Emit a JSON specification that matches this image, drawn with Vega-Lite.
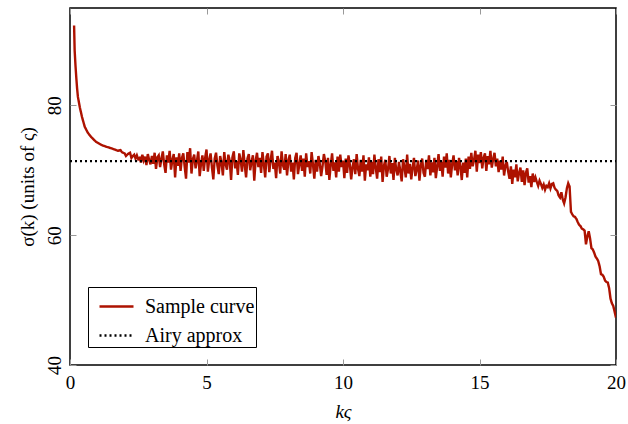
{
  "$schema": "https://vega.github.io/schema/vega-lite/v6.json",
  "width": 546,
  "height": 357,
  "autosize": {"type": "none"},
  "padding": {"left": 70, "top": 8, "right": 12, "bottom": 59},
  "background": "white",
  "config": {
    "font": "Liberation Serif",
    "view": {"stroke": "black", "strokeWidth": 1.5},
    "axis": {"grid": false, "domain": false, "tickColor": "#999999", "tickWidth": 1, "labelFlush": false, "labelFont": "Liberation Serif", "titleFont": "Liberation Serif", "labelFontSize": 19, "titleFontSize": 19, "titleFontWeight": "normal", "labelColor": "black", "titleColor": "black"}
  },
  "resolve": {"axis": {"x": "independent", "y": "independent"}},
  "datasets": {
    "curve": [
      {"k":0.15,"s":92.3},{"k":0.17,"s":88.5},{"k":0.2,"s":86.2},{"k":0.23,"s":84.3},{"k":0.26,"s":82.6},{"k":0.29,"s":81.3},{"k":0.36,"s":79.7},{"k":0.44,"s":78.2},{"k":0.54,"s":76.7},{"k":0.65,"s":75.8},{"k":0.78,"s":75.1},{"k":0.95,"s":74.4},{"k":1.15,"s":73.9},{"k":1.35,"s":73.6},{"k":1.5,"s":73.4},{"k":1.64,"s":73.2},{"k":1.75,"s":73.0},{"k":1.85,"s":73.1},{"k":1.9,"s":72.8},{"k":2.0,"s":72.6},{"k":2.05,"s":72.2},{"k":2.12,"s":72.5},{"k":2.2,"s":72.7},{"k":2.25,"s":71.9},{"k":2.3,"s":72.2},{"k":2.35,"s":72.4},{"k":2.4,"s":71.8},{"k":2.45,"s":72.3},{"k":2.5,"s":71.7},
      {"k":2.55,"s":71.9},{"k":2.6,"s":71.2},{"k":2.65,"s":72.4},{"k":2.7,"s":71.5},{"k":2.75,"s":72.1},{"k":2.8,"s":70.8},{"k":2.85,"s":72.5},{"k":2.9,"s":71.6},{"k":2.95,"s":70.9},{"k":3.0,"s":72.2},
      {"k":3.05,"s":71.0},{"k":3.1,"s":72.7},{"k":3.15,"s":70.2},{"k":3.2,"s":72.0},{"k":3.25,"s":72.3},{"k":3.3,"s":70.5},{"k":3.35,"s":71.8},{"k":3.4,"s":72.9},{"k":3.45,"s":70.9},{"k":3.5,"s":69.6},
      {"k":3.55,"s":72.3},{"k":3.6,"s":71.2},{"k":3.65,"s":73.0},{"k":3.7,"s":70.1},{"k":3.75,"s":71.6},{"k":3.8,"s":72.5},{"k":3.85,"s":68.9},{"k":3.9,"s":72.0},{"k":3.95,"s":70.7},{"k":4.0,"s":72.6},
      {"k":4.05,"s":69.9},{"k":4.1,"s":71.9},{"k":4.15,"s":72.6},{"k":4.2,"s":70.6},{"k":4.25,"s":68.7},{"k":4.3,"s":72.8},{"k":4.35,"s":71.2},{"k":4.4,"s":73.4},{"k":4.45,"s":69.5},{"k":4.5,"s":71.7},
      {"k":4.55,"s":72.4},{"k":4.6,"s":70.3},{"k":4.65,"s":71.5},{"k":4.7,"s":72.9},{"k":4.75,"s":69.1},{"k":4.8,"s":71.0},{"k":4.85,"s":72.3},{"k":4.9,"s":69.9},{"k":4.95,"s":71.9},{"k":5.0,"s":73.2},
      {"k":5.05,"s":69.8},{"k":5.1,"s":71.6},{"k":5.15,"s":72.6},{"k":5.2,"s":70.4},{"k":5.25,"s":68.6},{"k":5.3,"s":71.8},{"k":5.35,"s":72.7},{"k":5.4,"s":70.7},{"k":5.45,"s":69.4},{"k":5.5,"s":72.2},
      {"k":5.55,"s":71.2},{"k":5.6,"s":69.2},{"k":5.65,"s":72.8},{"k":5.7,"s":70.9},{"k":5.75,"s":70.1},{"k":5.8,"s":72.4},{"k":5.85,"s":71.5},{"k":5.9,"s":68.5},{"k":5.95,"s":72.0},{"k":6.0,"s":72.9},
      {"k":6.05,"s":70.3},{"k":6.1,"s":71.4},{"k":6.15,"s":69.3},{"k":6.2,"s":72.6},{"k":6.25,"s":71.6},{"k":6.3,"s":69.8},{"k":6.35,"s":73.1},{"k":6.4,"s":70.8},{"k":6.45,"s":68.9},{"k":6.5,"s":71.8},
      {"k":6.55,"s":72.5},{"k":6.6,"s":70.0},{"k":6.65,"s":71.3},{"k":6.7,"s":72.3},{"k":6.75,"s":68.4},{"k":6.8,"s":71.5},{"k":6.85,"s":72.7},{"k":6.9,"s":70.5},{"k":6.95,"s":71.9},{"k":7.0,"s":69.6},
      {"k":7.05,"s":72.8},{"k":7.1,"s":71.0},{"k":7.15,"s":68.9},{"k":7.2,"s":72.1},{"k":7.25,"s":72.6},{"k":7.3,"s":69.7},{"k":7.35,"s":71.6},{"k":7.4,"s":73.0},{"k":7.45,"s":70.2},{"k":7.5,"s":71.2},
      {"k":7.55,"s":68.8},{"k":7.6,"s":72.2},{"k":7.65,"s":71.3},{"k":7.7,"s":69.5},{"k":7.75,"s":72.9},{"k":7.8,"s":70.8},{"k":7.85,"s":70.1},{"k":7.9,"s":72.5},{"k":7.95,"s":69.2},{"k":8.0,"s":71.5},
      {"k":8.05,"s":72.4},{"k":8.1,"s":69.8},{"k":8.15,"s":71.2},{"k":8.2,"s":68.6},{"k":8.25,"s":71.9},{"k":8.3,"s":72.7},{"k":8.35,"s":69.4},{"k":8.4,"s":70.9},{"k":8.45,"s":72.3},{"k":8.5,"s":69.9},
      {"k":8.55,"s":71.8},{"k":8.6,"s":69.0},{"k":8.65,"s":72.6},{"k":8.7,"s":70.5},{"k":8.75,"s":71.4},{"k":8.8,"s":69.5},{"k":8.85,"s":72.8},{"k":8.9,"s":70.9},{"k":8.95,"s":68.7},{"k":9.0,"s":71.6},
      {"k":9.05,"s":69.8},{"k":9.1,"s":72.2},{"k":9.15,"s":71.0},{"k":9.2,"s":69.1},{"k":9.25,"s":70.6},{"k":9.3,"s":72.5},{"k":9.35,"s":71.4},{"k":9.4,"s":69.3},{"k":9.45,"s":71.9},{"k":9.5,"s":68.5},
      {"k":9.55,"s":70.8},{"k":9.6,"s":72.6},{"k":9.65,"s":69.9},{"k":9.7,"s":71.2},{"k":9.75,"s":68.9},{"k":9.8,"s":72.1},{"k":9.85,"s":69.8},{"k":9.9,"s":72.4},{"k":9.95,"s":70.5},{"k":10.0,"s":71.5},
      {"k":10.05,"s":68.8},{"k":10.1,"s":71.8},{"k":10.15,"s":69.6},{"k":10.2,"s":72.3},{"k":10.25,"s":70.9},{"k":10.3,"s":68.6},{"k":10.35,"s":70.5},{"k":10.4,"s":71.7},{"k":10.45,"s":69.4},{"k":10.5,"s":72.5},
      {"k":10.55,"s":70.2},{"k":10.6,"s":69.1},{"k":10.65,"s":71.6},{"k":10.7,"s":69.8},{"k":10.75,"s":72.3},{"k":10.8,"s":68.4},{"k":10.85,"s":70.9},{"k":10.9,"s":70.0},{"k":10.95,"s":72.0},{"k":11.0,"s":69.0},
      {"k":11.05,"s":71.3},{"k":11.1,"s":69.4},{"k":11.15,"s":72.4},{"k":11.2,"s":70.4},{"k":11.25,"s":68.7},{"k":11.3,"s":71.7},{"k":11.35,"s":69.7},{"k":11.4,"s":72.1},{"k":11.45,"s":68.2},{"k":11.5,"s":70.7},
      {"k":11.55,"s":71.6},{"k":11.6,"s":69.0},{"k":11.65,"s":70.2},{"k":11.7,"s":72.2},{"k":11.75,"s":69.5},{"k":11.8,"s":71.1},{"k":11.85,"s":68.5},{"k":11.9,"s":71.9},{"k":11.95,"s":70.1},{"k":12.0,"s":69.2},
      {"k":12.05,"s":71.3},{"k":12.1,"s":69.8},{"k":12.15,"s":68.3},{"k":12.2,"s":71.7},{"k":12.25,"s":70.5},{"k":12.3,"s":68.9},{"k":12.35,"s":72.4},{"k":12.4,"s":69.5},{"k":12.45,"s":71.0},{"k":12.5,"s":68.6},
      {"k":12.55,"s":70.4},{"k":12.6,"s":71.9},{"k":12.65,"s":69.1},{"k":12.7,"s":70.1},{"k":12.75,"s":71.5},{"k":12.8,"s":68.4},{"k":12.85,"s":70.7},{"k":12.9,"s":71.8},{"k":12.95,"s":69.6},{"k":13.0,"s":69.0},
      {"k":13.05,"s":71.6},{"k":13.1,"s":70.2},{"k":13.15,"s":72.3},{"k":13.2,"s":69.2},{"k":13.25,"s":71.2},{"k":13.3,"s":69.7},{"k":13.35,"s":71.9},{"k":13.4,"s":68.8},{"k":13.45,"s":70.6},{"k":13.5,"s":72.5},
      {"k":13.55,"s":69.9},{"k":13.6,"s":71.3},{"k":13.65,"s":69.0},{"k":13.7,"s":72.1},{"k":13.75,"s":70.4},{"k":13.8,"s":72.6},{"k":13.85,"s":69.5},{"k":13.9,"s":71.6},{"k":13.95,"s":68.9},{"k":14.0,"s":71.0},
      {"k":14.05,"s":72.3},{"k":14.1,"s":70.0},{"k":14.15,"s":71.4},{"k":14.2,"s":69.2},{"k":14.25,"s":71.9},{"k":14.3,"s":70.6},{"k":14.35,"s":68.5},{"k":14.4,"s":71.2},{"k":14.45,"s":69.6},{"k":14.5,"s":71.8},
      {"k":14.55,"s":68.9},{"k":14.6,"s":72.1},{"k":14.65,"s":70.2},{"k":14.7,"s":72.7},{"k":14.75,"s":70.6},{"k":14.8,"s":71.6},{"k":14.85,"s":73.0},{"k":14.9,"s":69.8},{"k":14.95,"s":72.4},{"k":15.0,"s":71.1},
      {"k":15.05,"s":72.8},{"k":15.1,"s":70.3},{"k":15.15,"s":71.9},{"k":15.2,"s":72.6},{"k":15.25,"s":69.9},{"k":15.3,"s":72.2},{"k":15.35,"s":70.9},{"k":15.4,"s":73.0},{"k":15.45,"s":70.4},{"k":15.5,"s":71.7},
      {"k":15.55,"s":72.7},{"k":15.6,"s":70.6},{"k":15.65,"s":71.8},{"k":15.7,"s":69.7},{"k":15.75,"s":71.5},{"k":15.8,"s":70.1},{"k":15.85,"s":72.1},{"k":15.9,"s":69.2},{"k":15.95,"s":70.7},{"k":16.0,"s":71.3},
      {"k":16.05,"s":69.8},{"k":16.1,"s":68.7},{"k":16.15,"s":70.6},{"k":16.2,"s":67.9},{"k":16.25,"s":70.1},{"k":16.3,"s":68.9},{"k":16.35,"s":70.9},{"k":16.4,"s":68.3},{"k":16.45,"s":69.6},{"k":16.5,"s":70.4},
      {"k":16.55,"s":68.2},{"k":16.6,"s":70.0},{"k":16.65,"s":67.7},{"k":16.7,"s":69.6},{"k":16.75,"s":70.3},{"k":16.8,"s":68.1},{"k":16.85,"s":69.1},{"k":16.9,"s":67.4},{"k":16.95,"s":69.5},{"k":17.0,"s":68.2},
      {"k":17.05,"s":68.9},{"k":17.1,"s":68.2},{"k":17.15,"s":67.6},{"k":17.2,"s":68.4},{"k":17.25,"s":67.9},{"k":17.3,"s":67.3},{"k":17.35,"s":67.8},{"k":17.4,"s":67.0},{"k":17.45,"s":67.6},{"k":17.5,"s":67.4},
      {"k":17.55,"s":68.0},{"k":17.6,"s":67.2},{"k":17.65,"s":67.9},{"k":17.7,"s":68.0},{"k":17.75,"s":67.3},{"k":17.8,"s":67.0},{"k":17.85,"s":66.8},{"k":17.9,"s":66.1},{"k":17.95,"s":65.8},{"k":18.0,"s":66.6},
      {"k":18.05,"s":65.5},{"k":18.1,"s":64.9},{"k":18.15,"s":65.8},{"k":18.2,"s":67.2},{"k":18.25,"s":68.0},{"k":18.3,"s":67.5},{"k":18.35,"s":63.6},{"k":18.4,"s":63.2},{"k":18.45,"s":62.9},{"k":18.5,"s":62.8},
      {"k":18.55,"s":62.5},{"k":18.6,"s":62.0},{"k":18.65,"s":61.6},{"k":18.7,"s":61.4},{"k":18.75,"s":61.0},{"k":18.8,"s":60.9},{"k":18.85,"s":60.7},{"k":18.9,"s":58.6},{"k":18.95,"s":59.8},{"k":19.0,"s":60.6},
      {"k":19.05,"s":59.5},{"k":19.1,"s":58.0},{"k":19.15,"s":57.8},{"k":19.2,"s":57.3},{"k":19.25,"s":56.7},{"k":19.3,"s":56.4},{"k":19.35,"s":56.0},{"k":19.4,"s":55.2},{"k":19.45,"s":54.0},{"k":19.5,"s":53.9},
      {"k":19.55,"s":53.6},{"k":19.6,"s":53.0},{"k":19.65,"s":52.8},{"k":19.7,"s":52.7},{"k":19.75,"s":51.8},{"k":19.8,"s":50.2},{"k":19.85,"s":49.5},{"k":19.9,"s":49.1},{"k":19.95,"s":48.2},{"k":20.0,"s":47.3}
    ],
    "airy": [
      {"k":0,"s":71.4},{"k":20,"s":71.4}
    ]
  },
  "layer": [
    {
      "data": {"name": "curve"},
      "transform": [{"calculate": "'Sample curve'", "as": "series"}],
      "mark": {"type": "line", "strokeWidth": 2.4, "clip": true},
      "encoding": {
        "x": {"field": "k", "type": "quantitative", "scale": {"domain": [0, 20], "nice": false},
              "axis": {"orient": "bottom", "values": [0, 5, 10, 15, 20], "tickSize": -6, "labelPadding": 14, "title": "kς", "titleFontStyle": "italic", "titlePadding": 10}},
        "y": {"field": "s", "type": "quantitative", "scale": {"domain": [40, 95], "nice": false, "zero": false},
              "axis": {"orient": "left", "values": [40, 60, 80], "tickSize": -6, "labelAngle": -90, "labelAlign": "center", "labelBaseline": "bottom", "labelPadding": 12, "title": "σ(k) (units of ς)", "titlePadding": 8}},
        "color": {"field": "series", "type": "nominal", "scale": {"domain": ["Sample curve", "Airy approx"], "range": ["#ad1200", "black"]},
                  "legend": {"title": null, "orient": "none", "legendX": 18, "legendY": 279, "direction": "vertical", "strokeColor": "black", "fillColor": "white", "padding": 1, "symbolType": "stroke", "symbolSize": 1156, "symbolStrokeWidth": 2.4, "labelFontSize": 20, "labelFont": "Liberation Serif", "labelColor": "black", "rowPadding": 0, "labelOffset": 10, "symbolOffset": 9}},
        "strokeDash": {"field": "series", "type": "nominal", "scale": {"domain": ["Sample curve", "Airy approx"], "range": [[1, 0], [2, 3]]}}
      }
    },
    {
      "data": {"name": "airy"},
      "transform": [{"calculate": "'Airy approx'", "as": "series"}],
      "mark": {"type": "line", "strokeWidth": 2.2},
      "encoding": {
        "x": {"field": "k", "type": "quantitative", "axis": {"orient": "top", "values": [0, 5, 10, 15, 20], "tickSize": -6, "labels": false, "title": null}},
        "y": {"field": "s", "type": "quantitative", "axis": {"orient": "right", "values": [40, 60, 80], "tickSize": -6, "labels": false, "title": null}},
        "color": {"field": "series", "type": "nominal"},
        "strokeDash": {"field": "series", "type": "nominal"}
      }
    }
  ]
}
